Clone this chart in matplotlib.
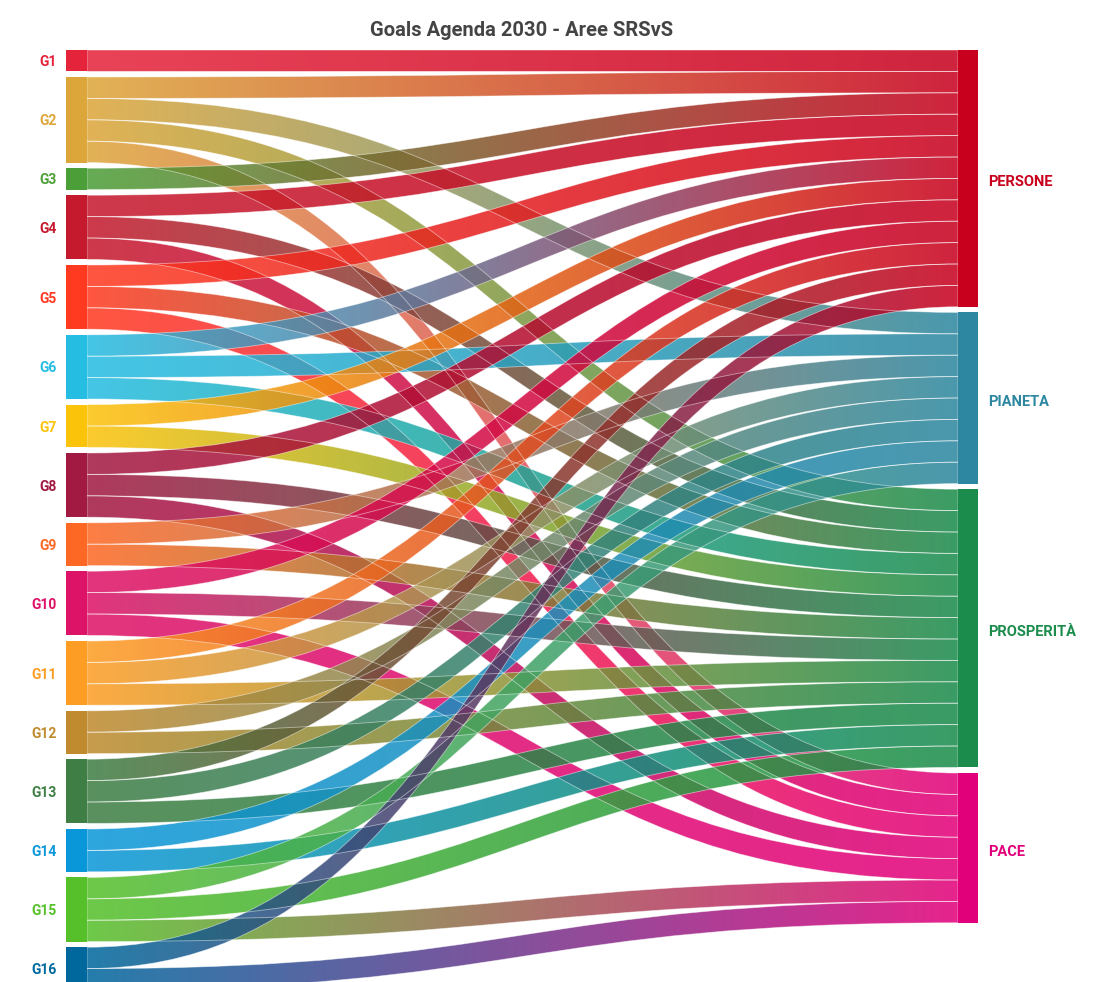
import numpy as np
import matplotlib.pyplot as plt
from matplotlib.path import Path
import matplotlib.patches as patches
from matplotlib.colors import to_rgb

# ---------------- data ----------------
goals = ['G1', 'G2', 'G3', 'G4', 'G5', 'G6', 'G7', 'G8',
         'G9', 'G10', 'G11', 'G12', 'G13', 'G14', 'G15', 'G16']
goal_colors = ['#E5243B', '#DDA63A', '#4C9F38', '#C5192D', '#FF3A21', '#26BDE2',
               '#FCC30B', '#A21942', '#FD6925', '#DD1367', '#FD9D24', '#BF8B2E',
               '#3F7E44', '#0A97D9', '#56C02B', '#00689D']

areas = ['PERSONE', 'PIANETA', 'PROSPERITÀ', 'PACE']
area_colors = ['#C8001E', '#2D87A0', '#1B8C4C', '#E2007A']

# goals linked to each area (every link has weight 1)
to_persone = ['G1', 'G2', 'G3', 'G4', 'G5', 'G6', 'G7', 'G8', 'G10', 'G11', 'G13', 'G16']
to_pianeta = ['G2', 'G6', 'G9', 'G11', 'G12', 'G13', 'G14', 'G15']
to_prosperita = ['G2', 'G4', 'G5', 'G6', 'G7', 'G8', 'G9', 'G10', 'G11', 'G12', 'G13', 'G14', 'G15']
to_pace = ['G2', 'G4', 'G5', 'G8', 'G10', 'G15', 'G16']

title = 'Goals Agenda 2030 - Aree SRSvS'

# ---------------- layout ----------------
W, H = 1094, 982
unit = 21.4      # px per link
gap = 5.6        # px between nodes
top = 50
xl0, xl1 = 66, 87      # left node bar
xr0, xr1 = 958, 978    # right node bar
font = ['Liberation Sans Narrow', 'Roboto', 'DejaVu Sans']

area_lists = [to_persone, to_pianeta, to_prosperita, to_pace]
links = []  # (goal index, area index)
for gi, g in enumerate(goals):
    for ai, lst in enumerate(area_lists):
        if g in lst:
            links.append((gi, ai))

out_deg = [sum(1 for l in links if l[0] == gi) for gi in range(len(goals))]
in_deg = [len(lst) for lst in area_lists]

left_top = []
y = top
for d in out_deg:
    left_top.append(y)
    y += d * unit + gap
right_top = []
y = top
for d in in_deg:
    right_top.append(y)
    y += d * unit + gap

fig = plt.figure(figsize=(W / 100, H / 100), dpi=100)
ax = fig.add_axes([0, 0, 1, 1])
ax.set_xlim(0, W)
ax.set_ylim(H, 0)
ax.axis('off')

left_off = list(left_top)
right_off = list(right_top)
for gi, ai in links:
    ys0 = left_off[gi]
    left_off[gi] += unit
    yt0 = right_off[ai]
    right_off[ai] += unit
    ys1, yt1 = ys0 + unit, yt0 + unit
    xm = (xl1 + xr0) / 2
    verts = [(xl1, ys0), (xm, ys0), (xm, yt0), (xr0, yt0),
             (xr0, yt1), (xm, yt1), (xm, ys1), (xl1, ys1), (xl1, ys0)]
    codes = [Path.MOVETO, Path.CURVE4, Path.CURVE4, Path.CURVE4,
             Path.LINETO, Path.CURVE4, Path.CURVE4, Path.CURVE4, Path.CLOSEPOLY]
    path = Path(verts, codes)
    patch = patches.PathPatch(path, facecolor='none', edgecolor='white',
                              lw=0.6, alpha=0.5, zorder=2)
    ax.add_patch(patch)
    c0 = np.array(to_rgb(goal_colors[gi]))
    c1 = np.array(to_rgb(area_colors[ai]))
    t = np.linspace(0, 1, 256)[:, None]
    grad = (1 - t) * c0 + t * c1
    rgba = np.concatenate([grad, np.full((256, 1), 0.86)], axis=1)[None, :, :]
    im = ax.imshow(rgba, extent=(xl1, xr0, max(ys1, yt1) + 2, min(ys0, yt0) - 2),
                   aspect='auto', interpolation='bilinear', zorder=1)
    im.set_clip_path(patch)

# nodes
for gi, g in enumerate(goals):
    h = out_deg[gi] * unit
    ax.add_patch(patches.Rectangle((xl0, left_top[gi]), xl1 - xl0, h,
                                   facecolor=goal_colors[gi], edgecolor='none', zorder=3))
    ax.text(57, left_top[gi] + h / 2 + 1.5, g, ha='right', va='center', fontsize=10,
            fontweight='bold', color=goal_colors[gi], family=font)

for ai, a in enumerate(areas):
    h = in_deg[ai] * unit
    ax.add_patch(patches.Rectangle((xr0, right_top[ai]), xr1 - xr0, h,
                                   facecolor=area_colors[ai], edgecolor='none', zorder=3))
    ax.text(988, right_top[ai] + h / 2 + 4, a, ha='left', va='center', fontsize=10.5,
            fontweight='bold', color=area_colors[ai], family=font)

ax.text(522, 30, title, ha='center', va='center', fontsize=14.5, fontweight='bold',
        color='#444444', family=font)

fig.savefig('out.png', dpi=100, facecolor='white')
